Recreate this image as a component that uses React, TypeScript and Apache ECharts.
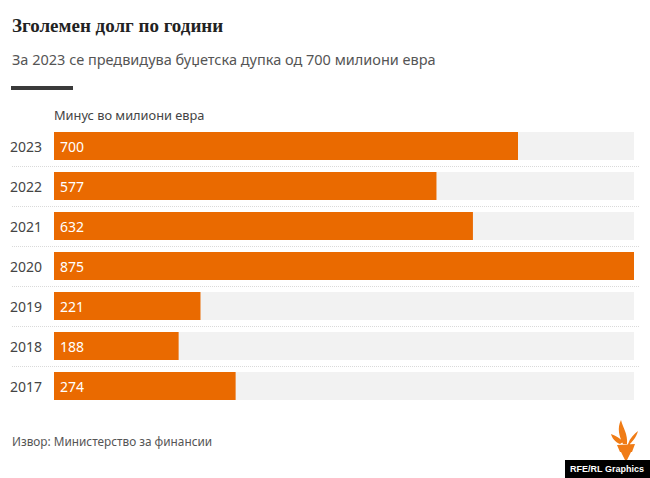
import React, { useEffect, useRef } from "react";
import * as echarts from "echarts";

const years = ["2023", "2022", "2021", "2020", "2019", "2018", "2017"];
const deficits = [700, 577, 632, 875, 221, 188, 274];
const axisMax = 875;

const titleText = "Зголемен долг по години";
const subtitleText = "За 2023 се предвидува буџетска дупка од 700 милиони евра";
const unitText = "Минус во милиони евра";
const sourceText = "Извор: Министерство за финансии";
const brandText = "RFE/RL Graphics";

const ORANGE = "#ea6a00";
const FONT = "'Noto Sans', 'Open Sans', sans-serif";

const TORCH =
  "M617 445 L635 444 L632 452 L620 452 Z " +
  "M621 452 L631 452 L626 462 Z " +
  "M623 444 C619 436 617 428 621 420 C623 428 628 434 627 444 Z " +
  "M620 444 C615 442 612 438 611 434 C616 436 620 438 623 442 Z " +
  "M628 444 C630 438 634 434 638 431 C636 438 632 442 629 445 Z";

let registered = false;

export default function App() {
  const ref = useRef<HTMLDivElement>(null);
  useEffect(() => {
    if (!registered) {
      echarts.graphic.registerShape("logo", echarts.graphic.extendPath(TORCH, {}));
      registered = true;
    }
    const chart = echarts.init(ref.current!, null, { renderer: "svg" });
    chart.setOption({
      animation: false,
      backgroundColor: "#ffffff",
      grid: [
        { left: 54, right: 16, top: 126, height: 280, containLabel: false },
        { left: 12, right: 10, top: 126, height: 280, containLabel: false },
      ],
      xAxis: [
        { type: "value", gridIndex: 0, min: 0, max: axisMax, show: false },
        { type: "value", gridIndex: 1, min: 0, max: 1, show: false },
      ],
      yAxis: [
        {
          type: "category",
          gridIndex: 0,
          inverse: true,
          data: years,
          axisLine: { show: false },
          axisTick: { show: false },
          splitLine: { show: false },
          axisLabel: { margin: 12, fontSize: 14, color: "#444", fontFamily: FONT },
        },
        {
          type: "category",
          gridIndex: 1,
          inverse: true,
          data: years,
          axisLine: { show: false },
          axisTick: { show: false },
          axisLabel: { show: false },
          splitLine: {
            show: true,
            showMinLine: false,
            showMaxLine: false,
            lineStyle: { color: "#dadada", type: "dotted", width: 1 },
          },
        },
      ],
      series: [
        {
          type: "bar",
          xAxisIndex: 0,
          yAxisIndex: 0,
          data: deficits,
          barWidth: 28,
          showBackground: true,
          backgroundStyle: { color: "#f2f2f2" },
          itemStyle: { color: ORANGE },
          label: {
            show: true,
            position: "insideLeft",
            distance: 6,
            color: "#ffffff",
            fontSize: 14,
            fontFamily: FONT,
            formatter: "{c}",
          },
        },
      ],
      graphic: [
        {
          type: "text",
          left: 12,
          top: 16,
          style: {
            text: titleText,
            font: "bold 19px 'Liberation Serif', 'DejaVu Serif', serif",
            fill: "#222",
          },
        },
        {
          type: "text",
          left: 12,
          top: 51,
          style: { text: subtitleText, font: `14.5px ${FONT}`, fill: "#555" },
        },
        {
          type: "rect",
          shape: { x: 11, y: 86, width: 62, height: 4 },
          style: { fill: "#3a3a3a" },
        },
        {
          type: "text",
          left: 54,
          top: 108,
          style: { text: unitText, font: `12.8px ${FONT}`, fill: "#444" },
        },
        {
          type: "text",
          left: 12,
          top: 435,
          style: { text: sourceText, font: `11.8px ${FONT}`, fill: "#555" },
        },
        {
          type: "logo",
          x: 0,
          y: 0,
          style: { fill: "#f07c16" },
        },
        {
          type: "rect",
          shape: { x: 565, y: 460, width: 85, height: 18 },
          style: { fill: "#000" },
        },
        {
          type: "text",
          x: 607,
          y: 469,
          style: {
            text: brandText,
            font: "bold 9px 'Liberation Sans', Arial, sans-serif",
            fill: "#fff",
            textAlign: "center",
            textVerticalAlign: "middle",
          },
        },
      ],
    });
    return () => chart.dispose();
  }, []);
  return (
    <div
      ref={ref}
      style={{ position: "fixed", left: 0, top: 0, width: 650, height: 478 }}
    />
  );
}
